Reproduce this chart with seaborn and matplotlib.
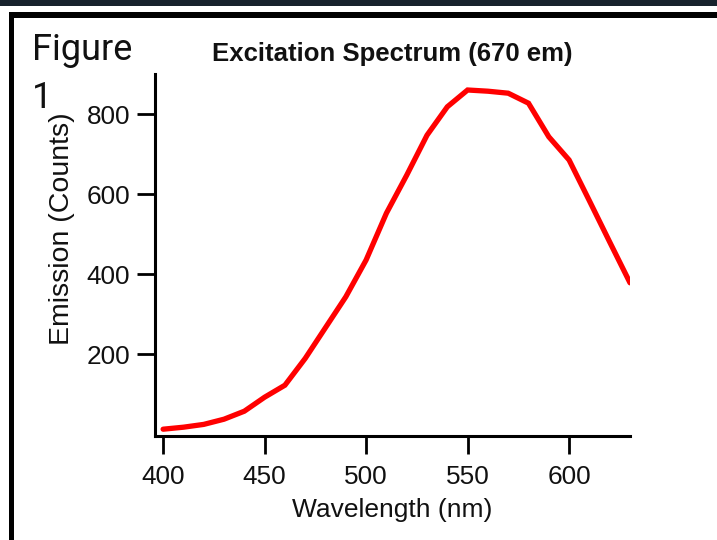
import matplotlib
matplotlib.use("Agg")
import matplotlib.pyplot as plt
from matplotlib.patches import Rectangle
import seaborn as sns
import pandas as pd

wavelength = [400, 410, 420, 430, 440, 450, 460, 470, 480, 490, 500, 510, 520,
              530, 540, 550, 560, 570, 580, 590, 600, 610, 620, 630]
emission = [12, 17, 24, 37, 57, 92, 122, 189, 266, 343, 435, 552, 647,
            747, 818, 860, 857, 852, 827, 743, 685, 583, 480, 378]
x_ticks = [400, 450, 500, 550, 600]
y_ticks = [200, 400, 600, 800]

title = "Excitation Spectrum (670 em)"
x_label = "Wavelength (nm)"
y_label = "Emission (Counts)"

df = pd.DataFrame({"wavelength": wavelength, "emission": emission})

sns.set_theme(style="ticks")
plt.rcParams["font.family"] = ["Liberation Sans", "DejaVu Sans"]

fig = plt.figure(figsize=(7.17, 5.40), dpi=100)
W, H = 717, 540

def px_rect(x0, y0, x1, y1, color):
    fig.patches.append(Rectangle((x0 / W, 1 - y1 / H), (x1 - x0) / W, (y1 - y0) / H,
                                 transform=fig.transFigure, facecolor=color,
                                 edgecolor="none", zorder=0))

# decorative frame
px_rect(0, 0, W, 6, "#17222c")
px_rect(9, 12, W, 18, "black")
px_rect(9, 12, 14, H, "black")

ax = fig.add_axes([155 / W, 1 - 436 / H, (630 - 155) / W, (436 - 74) / H])
sns.lineplot(data=df, x="wavelength", y="emission", ax=ax, color="#ff0000",
             linewidth=3.8, solid_joinstyle="miter")

ax.set_xlim(396, 630)
ax.set_ylim(-5, 900)
ax.set_xticks(x_ticks)
ax.set_yticks(y_ticks)
sns.despine(ax=ax)
for s in ["left", "bottom"]:
    ax.spines[s].set_linewidth(2.2)
    ax.spines[s].set_color("black")
ax.tick_params(axis="both", which="major", length=13, width=2.0, color="black",
               labelsize=18.8, labelcolor="#111111")
ax.tick_params(axis="x", pad=8)
ax.tick_params(axis="y", pad=5)

ax.set_xlabel(x_label, fontsize=19, color="#111111")
ax.set_ylabel(y_label, fontsize=20.5, color="#111111")
ax.xaxis.set_label_coords(0.5, -0.172)
ax.yaxis.set_label_coords(-0.168, 0.572)

ax.set_title(title, fontsize=18.5, fontweight="bold", pad=9, color="#111111")

fig.text(32 / W, 1 - 60 / H, "Figure", fontsize=26, family=["Roboto", "DejaVu Sans"],
         ha="left", va="baseline", color="#111111")
fig.text(32 / W, 1 - 108 / H, "1", fontsize=26, family=["Roboto", "DejaVu Sans"],
         ha="left", va="baseline", color="#111111")

fig.savefig("out.png", dpi=100, facecolor="white")
